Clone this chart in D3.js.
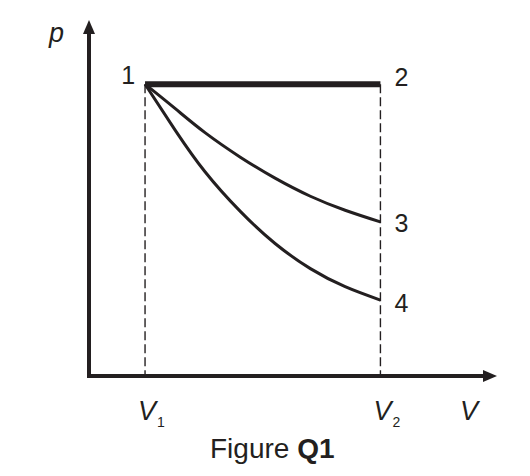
<!DOCTYPE html>
<html>
<head>
<meta charset="utf-8">
<script src="https://cdn.jsdelivr.net/npm/d3@7"></script>
<style>
  body { margin: 0; background: #fff; }
  text { font-family: "Liberation Sans", Arial, sans-serif; fill: #231f20; }
</style>
</head>
<body>
<div id="chart"></div>
<script>
// state points and the two expansion curves
var stateNames = ["1", "2", "3", "4"],
    volumeTicks = [1, 5.2],          // V1, V2
    volumeNames = ["1", "2"],
    isobarV = [1, 5.2],
    isobarP = [5, 5],
    upperV = [1, 1.54, 2.07, 2.7, 3.32, 3.95, 4.57, 5.2],
    upperP = [5, 4.58, 4.17, 3.75, 3.39, 3.08, 2.84, 2.64],
    lowerV = [1, 1.54, 2.07, 2.7, 3.32, 3.95, 4.57, 5.2],
    lowerP = [5, 4.21, 3.5, 2.82, 2.27, 1.84, 1.53, 1.3],
    vMax = 7.28,
    pMax = 6.1;

var width = 530,
    height = 476,
    ink = "#231f20";

var x = d3.scaleLinear().domain([0, vMax]).range([89, 497]),
    y = d3.scaleLinear().domain([0, pMax]).range([376, 20]);

var svg = d3.select("#chart").append("svg")
    .attr("width", width)
    .attr("height", height);

var zip = function(vs, ps) {
    return vs.map(function(v, i) { return {v: v, p: ps[i]}; });
};

var line = d3.line()
    .x(function(d) { return x(d.v); })
    .y(function(d) { return y(d.p); });

var curve = d3.line()
    .curve(d3.curveNatural)
    .x(function(d) { return x(d.v); })
    .y(function(d) { return y(d.p); });

// dashed guides down from V1 and V2
svg.selectAll("line.guide").data(volumeTicks).enter().append("line")
    .attr("class", "guide")
    .attr("x1", function(d) { return x(d); })
    .attr("x2", function(d) { return x(d); })
    .attr("y1", y(isobarP[0]))
    .attr("y2", y(0))
    .attr("stroke", ink)
    .attr("stroke-width", 1.4)
    .attr("stroke-dasharray", "9,4");

// axes
svg.append("line")
    .attr("x1", x(0)).attr("x2", x(0))
    .attr("y1", y(0) + 2).attr("y2", y(pMax) + 10)
    .attr("stroke", ink).attr("stroke-width", 4);
svg.append("line")
    .attr("x1", x(0) - 2).attr("x2", x(vMax) - 10)
    .attr("y1", y(0)).attr("y2", y(0))
    .attr("stroke", ink).attr("stroke-width", 4);

// arrow heads
var ty = [x(0), y(pMax)],
    tx = [x(vMax), y(0)];
svg.append("path")
    .attr("d", "M" + ty[0] + "," + ty[1] + "L" + (ty[0] + 6) + "," + (ty[1] + 14) +
               "L" + (ty[0] - 6) + "," + (ty[1] + 14) + "Z")
    .attr("fill", ink);
svg.append("path")
    .attr("d", "M" + tx[0] + "," + tx[1] + "L" + (tx[0] - 14) + "," + (tx[1] - 6) +
               "L" + (tx[0] - 14) + "," + (tx[1] + 6) + "Z")
    .attr("fill", ink);

// process curves
svg.append("path")
    .datum(zip(upperV, upperP))
    .attr("d", curve)
    .attr("fill", "none").attr("stroke", ink).attr("stroke-width", 3);
svg.append("path")
    .datum(zip(lowerV, lowerP))
    .attr("d", curve)
    .attr("fill", "none").attr("stroke", ink).attr("stroke-width", 3);
svg.append("path")
    .datum(zip(isobarV, isobarP))
    .attr("d", line)
    .attr("fill", "none").attr("stroke", ink).attr("stroke-width", 6);

// state labels
var statePos = [
    {v: isobarV[0], p: isobarP[0], dx: -10, dy: 0, anchor: "end"},
    {v: isobarV[1], p: isobarP[1], dx: 14, dy: 2, anchor: "start"},
    {v: upperV[upperV.length - 1], p: upperP[upperP.length - 1], dx: 14, dy: 10, anchor: "start"},
    {v: lowerV[lowerV.length - 1], p: lowerP[lowerP.length - 1], dx: 14, dy: 12, anchor: "start"}
];
svg.selectAll("text.state").data(statePos).enter().append("text")
    .attr("class", "state")
    .attr("x", function(d) { return x(d.v) + d.dx; })
    .attr("y", function(d) { return y(d.p) + d.dy; })
    .attr("text-anchor", function(d) { return d.anchor; })
    .attr("font-size", 25)
    .text(function(d, i) { return stateNames[i]; });

// V1, V2 tick labels
var vl = svg.selectAll("text.vtick").data(volumeTicks).enter().append("text")
    .attr("class", "vtick")
    .attr("x", function(d) { return x(d) - 7; })
    .attr("y", y(0) + 44)
    .attr("font-size", 27);
vl.append("tspan").attr("font-style", "italic").text("V");
vl.append("tspan").attr("font-size", 14).attr("dy", 7).attr("dx", 1)
    .text(function(d, i) { return volumeNames[i]; });

// axis names
svg.append("text")
    .attr("x", x(vMax) - 37).attr("y", y(0) + 44)
    .attr("font-size", 27).attr("font-style", "italic")
    .text("V");
svg.append("text")
    .attr("x", x(0) - 40).attr("y", y(pMax) + 22)
    .attr("font-size", 27).attr("font-style", "italic")
    .text("p");

// caption
var cap = svg.append("text")
    .attr("x", 210).attr("y", 458)
    .attr("font-size", 28);
cap.append("tspan").text("Figure ");
cap.append("tspan").attr("font-weight", "bold").text("Q1");
</script>
</body>
</html>
